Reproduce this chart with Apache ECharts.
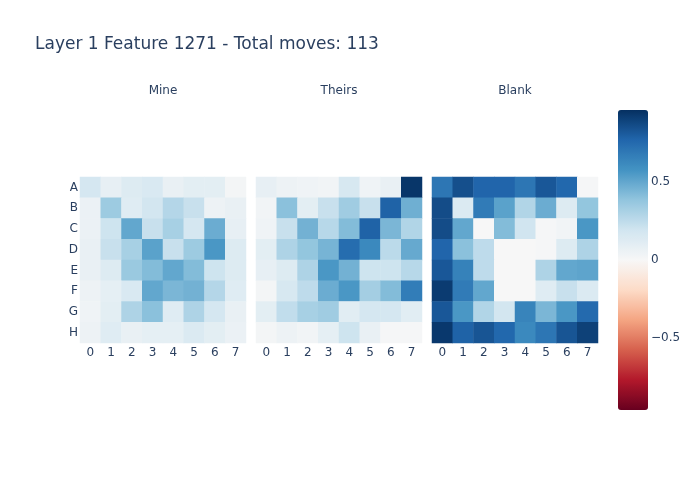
<!DOCTYPE html>
<html>
<head>
<meta charset="utf-8">
<script src="https://cdn.jsdelivr.net/npm/echarts@6/dist/echarts.min.js"></script>
<style>
  html, body { margin: 0; padding: 0; background: #fff; }
  #chart { width: 700px; height: 500px; }
</style>
</head>
<body>
<div id="chart"></div>
<script>
(function() {
  'use strict';

  var cols = ['0', '1', '2', '3', '4', '5', '6', '7'];
  var rows = ['A', 'B', 'C', 'D', 'E', 'F', 'G', 'H'];
  var panelTitles = ['Mine', 'Theirs', 'Blank'];
  var colorTicks = [-0.5, 0, 0.5];

  var mine = [
    [0.17, 0.08, 0.13, 0.15, 0.07, 0.10, 0.10, 0.02],
    [0.06, 0.35, 0.12, 0.18, 0.28, 0.22, 0.05, 0.07],
    [0.06, 0.20, 0.50, 0.22, 0.32, 0.17, 0.48, 0.08],
    [0.07, 0.22, 0.32, 0.52, 0.22, 0.35, 0.56, 0.13],
    [0.07, 0.13, 0.36, 0.42, 0.50, 0.42, 0.20, 0.13],
    [0.05, 0.09, 0.15, 0.50, 0.44, 0.46, 0.28, 0.12],
    [0.04, 0.10, 0.30, 0.40, 0.12, 0.30, 0.17, 0.07],
    [0.05, 0.12, 0.07, 0.09, 0.09, 0.14, 0.10, 0.06]
  ];
  var theirs = [
    [0.08, 0.05, 0.04, 0.03, 0.16, 0.04, 0.07, 0.94],
    [0.03, 0.40, 0.10, 0.22, 0.34, 0.22, 0.78, 0.47],
    [0.04, 0.22, 0.46, 0.27, 0.42, 0.78, 0.44, 0.29],
    [0.10, 0.30, 0.38, 0.45, 0.74, 0.62, 0.26, 0.49],
    [0.08, 0.13, 0.30, 0.56, 0.46, 0.20, 0.20, 0.27],
    [0.02, 0.16, 0.25, 0.48, 0.56, 0.33, 0.42, 0.67],
    [0.10, 0.24, 0.32, 0.34, 0.11, 0.17, 0.17, 0.11],
    [0.02, 0.05, 0.03, 0.09, 0.20, 0.07, 0.01, 0.01]
  ];
  var blank = [
    [0.70, 0.85, 0.77, 0.77, 0.70, 0.82, 0.76, 0.01],
    [0.86, 0.14, 0.68, 0.52, 0.29, 0.48, 0.13, 0.38],
    [0.86, 0.50, 0.00, 0.42, 0.19, 0.01, 0.03, 0.56],
    [0.77, 0.40, 0.25, 0.00, 0.00, 0.01, 0.13, 0.30],
    [0.82, 0.65, 0.25, 0.00, 0.00, 0.30, 0.50, 0.51],
    [0.92, 0.68, 0.50, 0.00, 0.00, 0.12, 0.22, 0.14],
    [0.82, 0.56, 0.29, 0.18, 0.64, 0.44, 0.56, 0.75],
    [0.93, 0.78, 0.83, 0.76, 0.62, 0.70, 0.83, 0.90]
  ];

  var zmin = -0.96, zmax = 0.96;
  var rdbu = ['#67001f', '#b2182b', '#d6604d', '#f4a582', '#fddbc7', '#f7f7f7',
              '#d1e5f0', '#92c5de', '#4393c3', '#2166ac', '#053061'];
  var textColor = '#2a3f5f';
  var font = '"DejaVu Sans", "Open Sans", sans-serif';

  var panels = [mine, theirs, blank];
  var lefts = [80, 256, 432];
  var top = 177, size = 166;

  function toCells(m) {
    var out = [];
    m.forEach(function(r, i) {
      r.forEach(function(v, j) { out.push([j, i, v]); });
    });
    return out;
  }

  var grids = [], xAxes = [], yAxes = [], series = [], graphics = [];
  panels.forEach(function(m, k) {
    grids.push({ left: lefts[k], top: top, width: size, height: size });
    xAxes.push({
      type: 'category', data: cols, gridIndex: k,
      axisLine: { show: false }, axisTick: { show: false }, splitLine: { show: false },
      axisLabel: { color: textColor, fontFamily: font, fontSize: 12, margin: 4 }
    });
    yAxes.push({
      type: 'category', data: rows, gridIndex: k, inverse: true,
      axisLine: { show: false }, axisTick: { show: false }, splitLine: { show: false },
      axisLabel: { show: k === 0, color: textColor, fontFamily: font, fontSize: 12, margin: 2 }
    });
    series.push({
      type: 'heatmap', xAxisIndex: k, yAxisIndex: k,
      data: toCells(m), itemStyle: { borderWidth: 0 }, emphasis: { disabled: true }
    });
    graphics.push({
      type: 'text', x: lefts[k] + size / 2, y: 91,
      style: { text: panelTitles[k], fill: textColor, font: '12px ' + font,
               textAlign: 'center', textVerticalAlign: 'middle' }
    });
  });

  // colour bar axis
  grids.push({ left: 618, top: 110, width: 30, height: 300 });
  xAxes.push({ type: 'value', gridIndex: 3, show: false });
  yAxes.push({
    type: 'value', gridIndex: 3, min: zmin, max: zmax, position: 'right',
    axisLine: { show: false }, axisTick: { show: false }, splitLine: { show: false },
    axisLabel: {
      color: textColor, fontFamily: font, fontSize: 12, margin: 3,
      customValues: colorTicks,
      formatter: function(v) { return v < 0 ? '\u2212' + Math.abs(v) : String(v); }
    }
  });

  graphics.push({
    type: 'text', x: 35, y: 45,
    style: { text: 'Layer 1 Feature 1271 - Total moves: 113', fill: textColor,
             font: '17px ' + font, textVerticalAlign: 'middle' }
  });

  var chart = echarts.init(document.getElementById('chart'));
  chart.setOption({
    backgroundColor: '#fff',
    animation: false,
    grid: grids,
    xAxis: xAxes,
    yAxis: yAxes,
    visualMap: {
      type: 'continuous', min: zmin, max: zmax, seriesIndex: [0, 1, 2],
      calculable: false, left: 618, top: 110, itemWidth: 30, itemHeight: 300,
      padding: 0, text: null, showLabel: false,
      inRange: { color: rdbu }
    },
    graphic: graphics,
    series: series
  });
})();
</script>
</body>
</html>
